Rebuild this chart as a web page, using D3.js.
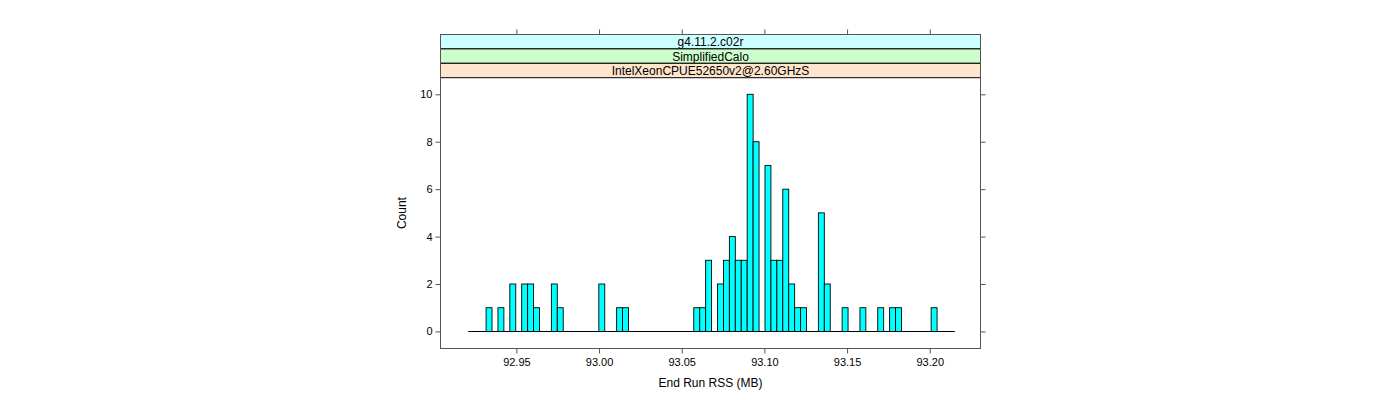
<!DOCTYPE html>
<html>
<head>
<meta charset="utf-8">
<script src="https://cdn.jsdelivr.net/npm/d3@7"></script>
<style>
  body { margin: 0; background: #fff; }
  svg { font-family: "Liberation Sans", Arial, sans-serif; }
  .strip text { font-size: 12px; fill: #000; }
  .tick text { font-size: 11px; fill: #000; }
  .axisTitle { font-size: 12px; fill: #000; }
</style>
</head>
<body>
<script>
//histogram: 82 equal bins between breakLo and breakHi
var breakLo = 92.9209,
    breakHi = 93.2152;
var counts = [0,0,0,1,0,1,0,2,0,2, 2,1,0,0,2,1,0,0,0,0,
              0,0,2,0,0,1,1,0,0,0, 0,0,0,0,0,0,0,0,1,1,
              3,0,2,3,4,3,3,10,8,0, 7,3,3,6,2,1,1,0,0,5,
              2,0,0,1,0,0,1,0,0,1, 0,1,1,0,0,0,0,0,1,0,
              0,0];
var xTicks = [92.95, 93.00, 93.05, 93.10, 93.15, 93.20];
var yTicks = [0, 2, 4, 6, 8, 10];
var strips = ["g4.11.2.c02r", "SimplifiedCalo", "IntelXeonCPUE52650v2@2.60GHzS"];
var stripFill = ["#ccffff", "#ccffcc", "#ffe5cc"];

var width = 1400,
    height = 400;

//panel box
var panelL = 440.5, panelR = 980.5, panelT = 34.5, panelB = 348.5;
var stripH = 14.4;
var plotTop = panelT + stripH * strips.length;

var svg = d3.select("body")
    .append("svg")
    .attr("width", width)
    .attr("height", height);

var x = d3.scaleLinear()
    .domain([92.9041, 93.2307])
    .range([panelL, panelR]);

var y = d3.scaleLinear()
    .domain([-0.72, 10.7])
    .range([panelB, plotTop]);

var binW = (breakHi - breakLo) / counts.length;

//baseline across all bins
svg.append("line")
    .attr("x1", x(breakLo))
    .attr("x2", x(breakHi))
    .attr("y1", Math.round(y(0)) + 0.5)
    .attr("y2", Math.round(y(0)) + 0.5)
    .attr("stroke", "#000");

//bars
svg.selectAll(".bar")
    .data(counts.map(function(c, i){ return {i: i, c: c}; }).filter(function(d){ return d.c > 0; }))
    .enter()
    .append("rect")
    .attr("class", "bar")
    .attr("x", function(d){ return x(breakLo + d.i * binW); })
    .attr("width", function(d){ return x(breakLo + (d.i + 1) * binW) - x(breakLo + d.i * binW); })
    .attr("y", function(d){ return y(d.c); })
    .attr("height", function(d){ return y(0) - y(d.c); })
    .attr("fill", "#00ffff")
    .attr("stroke", "#000")
    .attr("stroke-width", 0.9);

//strips, last one sits just above the panel
var strip = svg.selectAll(".strip")
    .data(strips)
    .enter()
    .append("g")
    .attr("class", "strip")
    .attr("transform", function(d, i){ return "translate(0," + (panelT + i * stripH) + ")"; });

strip.append("rect")
    .attr("x", panelL)
    .attr("width", panelR - panelL)
    .attr("height", stripH)
    .attr("fill", function(d, i){ return stripFill[i]; })
    .attr("stroke", "#000")
    .attr("stroke-width", 1);

strip.append("text")
    .attr("x", (panelL + panelR) / 2)
    .attr("y", stripH / 2 + 4.5)
    .attr("text-anchor", "middle")
    .text(function(d){ return d; });

//axes: labels bottom and left, ticks on all four sides
var xAxis = d3.axisBottom(x).tickValues(xTicks).tickFormat(d3.format(".2f")).tickSize(5).tickPadding(5);
var xTop = d3.axisTop(x).tickValues(xTicks).tickFormat("").tickSize(5);
var yAxis = d3.axisLeft(y).tickValues(yTicks).tickSize(5).tickPadding(3);
var yRight = d3.axisRight(y).tickValues(yTicks).tickFormat("").tickSize(5);

function styleAxis(g){
    g.select(".domain").remove();
    g.selectAll(".tick line").attr("stroke", "#555");
    g.selectAll("text").attr("font-family", null).attr("font-size", null);
}

svg.append("g").attr("transform", "translate(0," + panelB + ")").call(xAxis).call(styleAxis);
svg.append("g").attr("transform", "translate(0," + panelT + ")").call(xTop).call(styleAxis);
svg.append("g").attr("transform", "translate(" + panelL + ",0)").call(yAxis).call(styleAxis);
svg.append("g").attr("transform", "translate(" + panelR + ",0)").call(yRight).call(styleAxis);

//panel border
svg.append("rect")
    .attr("x", panelL)
    .attr("y", panelT)
    .attr("width", panelR - panelL)
    .attr("height", panelB - panelT)
    .attr("fill", "none")
    .attr("stroke", "#555");

//axis titles
svg.append("text")
    .attr("class", "axisTitle")
    .attr("x", (panelL + panelR) / 2)
    .attr("y", 387)
    .attr("text-anchor", "middle")
    .text("End Run RSS (MB)");

svg.append("text")
    .attr("class", "axisTitle")
    .attr("transform", "translate(406," + ((plotTop + panelB) / 2) + ") rotate(-90)")
    .attr("text-anchor", "middle")
    .text("Count");
</script>
</body>
</html>
